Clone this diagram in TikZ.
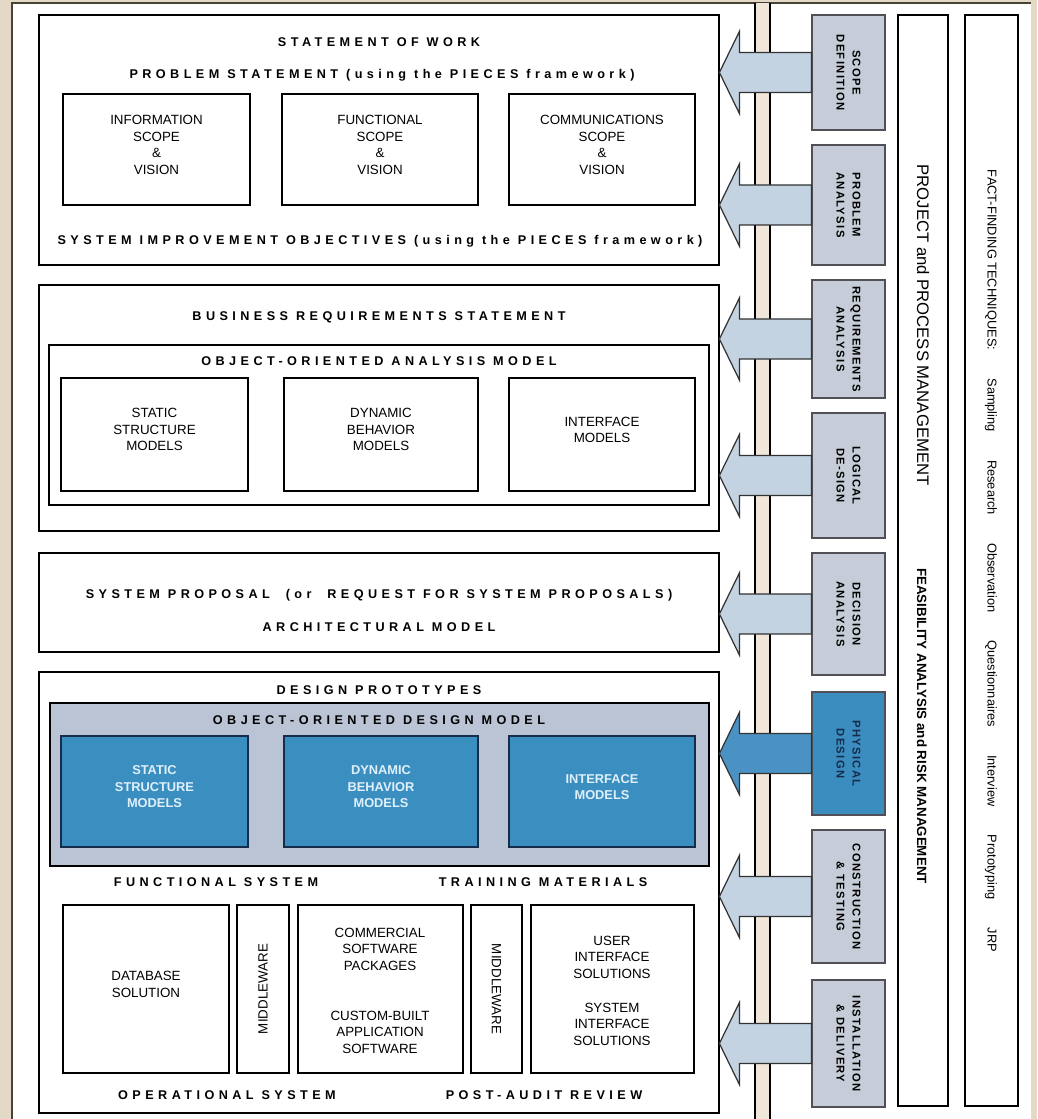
\documentclass[tikz,border=0pt]{standalone}
\usepackage{fontspec}
\setmainfont{Liberation Sans}
\newfontfamily\ttlfont[LetterSpace=35]{Liberation Sans}
\newfontfamily\phfont[LetterSpace=12]{Liberation Sans}
\usetikzlibrary{fit,calc}
\definecolor{bgbeige}{RGB}{227,217,198}
\definecolor{barbeige}{RGB}{240,231,218}
\definecolor{framec}{RGB}{70,66,52}
\definecolor{phasec}{RGB}{199,205,216}
\definecolor{phaseline}{RGB}{80,80,86}
\definecolor{arrowc}{RGB}{195,211,226}
\definecolor{physc}{RGB}{59,141,191}
\definecolor{physarrow}{RGB}{74,146,196}
\definecolor{designbg}{RGB}{186,196,212}
\definecolor{bluebox}{RGB}{58,142,192}
\definecolor{bluetext}{RGB}{224,240,251}
\definecolor{navytext}{RGB}{22,44,74}

\begin{document}
\begin{tikzpicture}[x=0.2mm, y=-0.2mm,
  ttl/.style={font=\ttlfont\bfseries\fontsize{7.2}{8.5}\selectfont, inner sep=0},
  mainbox/.style={draw, line width=0.7pt, fill=white, inner sep=0},
  ibox/.style={draw, line width=0.7pt, inner sep=0, align=center,
    font=\fontsize{7.6}{9.4}\selectfont},
  itext/.style={align=center, inner sep=0, font=\fontsize{7.6}{9.4}\selectfont},
  bbox/.style={ibox, fill=bluebox, draw=navytext, text=bluetext,
    font=\bfseries\fontsize{7.3}{9.4}\selectfont},
  phbox/.style={draw=phaseline, line width=0.7pt, inner sep=0},
  phlbl/.style={rotate=-90, align=center, inner sep=0,
    font=\phfont\bfseries\fontsize{6.4}{9.1}\selectfont},
  colbox/.style={draw, line width=0.7pt, inner sep=0}]

\useasboundingbox (0,0) rectangle (1037,1119);
\fill[bgbeige] (0,0) rectangle (1037,1119);
\fill[white] (12,3) rectangle (1031,1119);
\draw[framec, line width=1pt] (12,1119) -- (12,3) -- (1031,3);

% the bar behind the arrows
\fill[barbeige] (755,3) rectangle (770,1119);
\draw[line width=0.6pt] (755,3) -- (755,1119) (770,3) -- (770,1119);

% statement of work
\node[mainbox, fit={(39,15) (719,265)}] (sow) {};
\node[ttl] (sowttl) at (379,42) {STATEMENT OF WORK};
\node[ttl] (probttl) at (382,75) {PROBLEM STATEMENT (using the PIECES framework)};
\node[ibox, fit={(63,94) (250,205)}] (info) {INFORMATION\\SCOPE\\\&\\VISION};
\node[ibox, fit={(282,94) (478,205)}] (func) {FUNCTIONAL\\SCOPE\\\&\\VISION};
\node[ibox, fit={(509,94) (695,205)}] (comm) {COMMUNICATIONS\\SCOPE\\\&\\VISION};
\node[ttl] (objttl) at (380,241) {SYSTEM IMPROVEMENT OBJECTIVES (using the PIECES framework)};

% business requirements
\node[mainbox, fit={(39,285) (719,531)}] (brs) {};
\node[ttl] (brsttl) at (379,317) {BUSINESS REQUIREMENTS STATEMENT};
\node[ibox, fit={(49,345) (709,505)}] (ooam) {};
\node[ttl] (ooamttl) at (379,361) {OBJECT-ORIENTED ANALYSIS MODEL};
\node[ibox, fit={(61,378) (248,491)}] (astat) {STATIC\\STRUCTURE\\MODELS};
\node[ibox, fit={(284,378) (478,491)}] (adyn) {DYNAMIC\\BEHAVIOR\\MODELS};
\node[ibox, fit={(509,378) (695,491)}] (aint) {INTERFACE\\MODELS};

% system proposal
\node[mainbox, fit={(39,553) (719,652)}] (prop) {};
\node[ttl] (propttl) at (379,595) {SYSTEM PROPOSAL\ \ (or\ \ REQUEST FOR SYSTEM PROPOSALS)};
\node[ttl] (archttl) at (379,627) {ARCHITECTURAL MODEL};

% design
\node[mainbox, fit={(39,672) (719,1113)}] (dsgn) {};
\node[ttl] (protottl) at (379,690) {DESIGN PROTOTYPES};
\node[ibox, fill=designbg, fit={(50,703) (709,866)}] (oodm) {};
\node[ttl] (oodmttl) at (379,720) {OBJECT-ORIENTED DESIGN MODEL};
\node[bbox, fit={(61,736) (248,847)}] (dstat) {STATIC\\STRUCTURE\\MODELS};
\node[bbox, fit={(284,736) (478,847)}] (ddyn) {DYNAMIC\\BEHAVIOR\\MODELS};
\node[bbox, fit={(509,736) (695,847)}] (dint) {INTERFACE\\MODELS};
\node[ttl] (fsttl) at (216,882) {FUNCTIONAL SYSTEM};
\node[ttl] (trttl) at (543,882) {TRAINING MATERIALS};
\node[ibox, fit={(63,905) (229,1073)}] (db) {DATABASE\\SOLUTION};
\node[ibox, fit={(237,905) (289,1073)}] (mw1) {};
\node[itext, rotate=90] (mw1t) at (mw1) {MIDDLEWARE};
\node[ibox, fit={(298,905) (463,1073)}] (sw) {};
\node[itext] (cots) at (380,949) {COMMERCIAL\\SOFTWARE\\PACKAGES};
\node[itext] (cust) at (380,1032) {CUSTOM-BUILT\\APPLICATION\\SOFTWARE};
\node[ibox, fit={(471,905) (522,1073)}] (mw2) {};
\node[itext, rotate=-90] (mw2t) at (mw2) {MIDDLEWARE};
\node[ibox, fit={(531,905) (694,1073)}] (ui) {};
\node[itext] (uit) at (612,957) {USER\\INTERFACE\\SOLUTIONS};
\node[itext] (sit) at (612,1024) {SYSTEM\\INTERFACE\\SOLUTIONS};
\node[ttl] (opttl) at (227,1095) {OPERATIONAL SYSTEM};
\node[ttl] (pattl) at (544,1095) {POST-AUDIT REVIEW};

% phases and their arrows
\foreach \i/\ya/\yb/\fc/\ac/\tc/\txt in {
    1/15/130/phasec/arrowc/black/{SCOPE\\DEFINITION},
    2/145/265/phasec/arrowc/black/{PROBLEM\\ANALYSIS},
    3/280/398/phasec/arrowc/black/{REQUIREMENTS\\ANALYSIS},
    4/413/538/phasec/arrowc/black/{LOGICAL\\DE-SIGN},
    5/553/675/phasec/arrowc/black/{DECISION\\ANALYSIS},
    6/692/815/physc/physarrow/navytext/{PHYSICAL\\DESIGN},
    7/830/963/phasec/arrowc/black/{CONSTRUCTION\\\& TESTING},
    8/980/1107/phasec/arrowc/black/{INSTALLATION\\\& DELIVERY}} {
  \node[phbox, fill=\fc, fit={(812,\ya) (885,\yb)}] (p\i) {};
  \node[phlbl, text=\tc] (p\i t) at (p\i) {\txt};
  \filldraw[fill=\ac, draw=black!80, line width=0.7pt]
    ($(p\i.west)+(0,-20)$) -- ++(-72,0) -- ++(0,-21) -- ++(-20,41)
    -- ++(20,41) -- ++(0,-21) -- ++(72,0) -- cycle;
}

% side columns
\node[colbox, fit={(898,15) (948,1106)}] (pm) {};
\node[rotate=-90, inner sep=0, font=\fontsize{9.5}{11}\selectfont] (pmt) at (923,325)
  {PROJECT and PROCESS MANAGEMENT};
\node[rotate=-90, inner sep=0, font=\bfseries\fontsize{7.6}{9}\selectfont] (rmt) at (922,726)
  {FEASIBILITY ANALYSIS and RISK MANAGEMENT};
\node[colbox, fit={(965,15) (1018,1106)}] (ff) {};
\node[rotate=-90, inner sep=0, font=\fontsize{7.3}{9}\selectfont] (fft) at (991,561)
  {FACT-FINDING TECHNIQUES:\hspace{2.2em}Sampling\hspace{2.2em}Research\hspace{2.2em}Observation\hspace{2.2em}Questionnaires\hspace{2.2em}Interview\hspace{2.2em}Prototyping\hspace{2.2em}JRP};
\end{tikzpicture}
\end{document}
